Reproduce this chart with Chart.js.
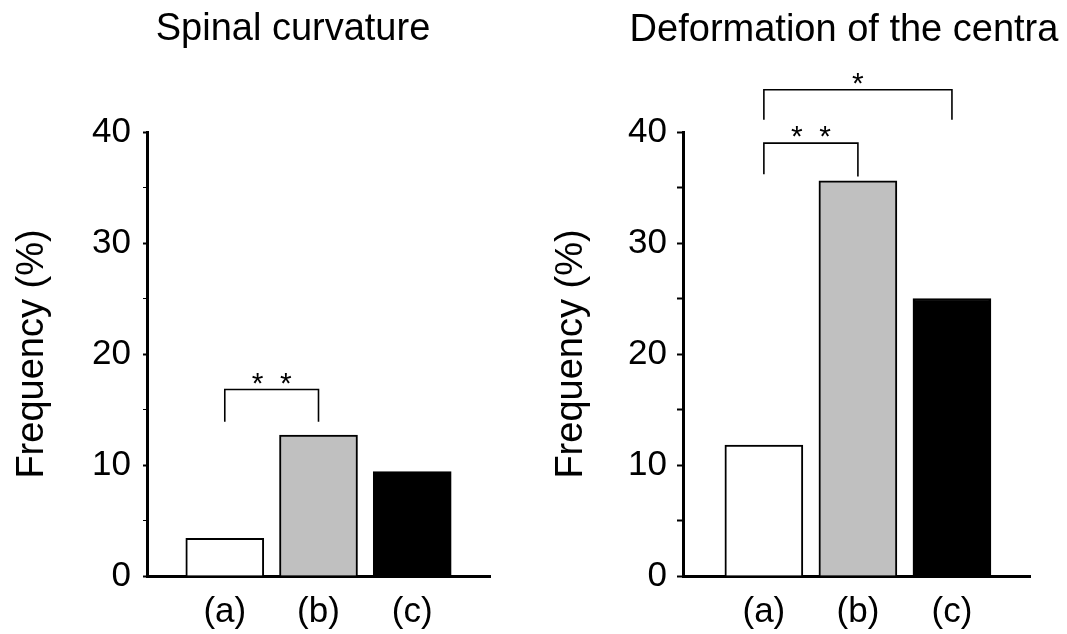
<!DOCTYPE html>
<html>
<head>
<meta charset="utf-8">
<title>Frequency of skeletal abnormalities</title>
<script src="https://cdn.jsdelivr.net/npm/chart.js@4.4.1/dist/chart.umd.min.js"></script>
<style>
  html, body { margin: 0; padding: 0; background: #ffffff; }
  #wrap { position: relative; width: 1067px; height: 634px; overflow: hidden; }
  canvas { position: absolute; top: 0; }
  #spinal { left: 0; }
  #centra { left: 534px; }
</style>
</head>
<body>
<div id="wrap">
  <canvas id="spinal" width="533" height="634"></canvas>
  <canvas id="centra" width="533" height="634"></canvas>
</div>
<script>
// Groups shown on the x axis
const categories = ['(a)', '(b)', '(c)'];

// Frequency (%) of each abnormality per group
const spinalValues = [3.4, 12.7, 9.4];
const centraValues = [11.8, 35.6, 25.0];

// Y axis range and labelled ticks
const yMin = 0;
const yMax = 40;
const yMinorStep = 5;
const yLabelledTicks = [0, 10, 20, 30, 40];

// Bar fills per group
const barFills = ['#ffffff', '#c0c0c0', '#000000'];

// Significance brackets: groups joined, bracket height and leg ends (in % units)
const spinalBrackets = [
  { from: 0, to: 1, top: 16.8, legEnds: [13.9, 13.9], label: '*  *' }
];
const centraBrackets = [
  { from: 0, to: 1, top: 39.0, legEnds: [36.2, 36.0], label: '*  *' },
  { from: 0, to: 2, top: 43.8, legEnds: [41.1, 41.1], label: '*' }
];

const FONT = '"Liberation Sans", Arial, Helvetica, sans-serif';

// Draws the panel heading and the significance brackets
const panelDecor = {
  id: 'panelDecor',
  afterDatasetsDraw(chart, args, opts) {
    const ctx = chart.ctx;
    const xs = chart.scales.x;
    const ys = chart.scales.y;
    ctx.save();
    // heading
    ctx.fillStyle = '#000';
    ctx.font = '38px ' + FONT;
    ctx.textAlign = 'center';
    ctx.textBaseline = 'alphabetic';
    ctx.fillText(opts.title, opts.titleX, opts.titleY);
    // brackets
    ctx.strokeStyle = '#000';
    ctx.lineWidth = 1.6;
    ctx.lineCap = 'butt';
    for (const b of opts.brackets) {
      const x1 = xs.getPixelForValue(b.from + 1);
      const x2 = xs.getPixelForValue(b.to + 1);
      const yTop = ys.getPixelForValue(b.top);
      ctx.beginPath();
      ctx.moveTo(x1, ys.getPixelForValue(b.legEnds[0]));
      ctx.lineTo(x1, yTop);
      ctx.lineTo(x2, yTop);
      ctx.lineTo(x2, ys.getPixelForValue(b.legEnds[1]));
      ctx.stroke();
      ctx.font = '30px ' + FONT;
      ctx.textAlign = 'center';
      ctx.textBaseline = 'alphabetic';
      ctx.fillText(b.label, (x1 + x2) / 2, yTop + 3);
    }
    ctx.restore();
  }
};

function makePanel(canvasId, values, brackets, cfg) {
  const points = values.map((v, i) => ({ x: i + 1, y: v }));
  return new Chart(document.getElementById(canvasId), {
    type: 'bar',
    data: {
      datasets: [{
        data: points,
        backgroundColor: barFills,
        borderColor: '#000000',
        borderWidth: 2,
        borderSkipped: 'start',
        barThickness: 78
      }]
    },
    options: {
      responsive: false,
      animation: false,
      devicePixelRatio: 1,
      layout: { padding: { top: 132, right: cfg.padRight, bottom: 0, left: 0 } },
      plugins: {
        legend: { display: false },
        tooltip: { enabled: false },
        title: { display: false },
        panelDecor: {
          title: cfg.title,
          titleX: cfg.titleX,
          titleY: cfg.titleY,
          brackets: brackets
        }
      },
      scales: {
        x: {
          type: 'linear',
          offset: false,
          min: cfg.xMin,
          max: cfg.xMax,
          afterBuildTicks(scale) {
            scale.ticks = categories.map((c, i) => ({ value: i + 1 }));
          },
          afterFit(scale) { scale.height = 58; },
          grid: { display: false, drawTicks: false, offset: false },
          border: { display: true, color: '#000', width: 3 },
          ticks: {
            color: '#000',
            padding: 15,
            font: { family: FONT, size: 35 },
            callback: (v) => categories[Math.round(v) - 1] || ''
          }
        },
        y: {
          min: yMin,
          max: yMax,
          afterFit(scale) { scale.width = cfg.yAxisWidth; },
          grid: {
            display: true,
            drawOnChartArea: false,
            drawTicks: true,
            tickLength: cfg.tickLength,
            tickColor: '#000',
            tickWidth: (c) => (yLabelledTicks.includes(c.tick && c.tick.value) ? 2 : cfg.minorTickWidth)
          },
          border: { display: true, color: '#000', width: 3 },
          ticks: {
            stepSize: yMinorStep,
            color: '#000',
            padding: cfg.tickPadding,
            font: { family: FONT, size: 35 },
            callback: (v) => (yLabelledTicks.includes(v) ? String(v) : '')
          },
          title: {
            display: true,
            text: 'Frequency (%)',
            color: '#000',
            font: { family: FONT, size: 38 },
            padding: { top: cfg.yTitlePad, bottom: 0 }
          }
        }
      }
    },
    plugins: [panelDecor]
  });
}

makePanel('spinal', spinalValues, spinalBrackets, {
  title: 'Spinal curvature', titleX: 293, titleY: 40,
  padRight: 43, yAxisWidth: 147, xMin: 0.17, xMax: 3.83,
  tickLength: 4, minorTickWidth: 1, tickPadding: 12, yTitlePad: 10
});

makePanel('centra', centraValues, centraBrackets, {
  title: 'Deformation of the centra', titleX: 310, titleY: 41,
  padRight: 37, yAxisWidth: 149, xMin: 0.14, xMax: 3.83,
  tickLength: 6, minorTickWidth: 2, tickPadding: 10, yTitlePad: 15
});
</script>
</body>
</html>
